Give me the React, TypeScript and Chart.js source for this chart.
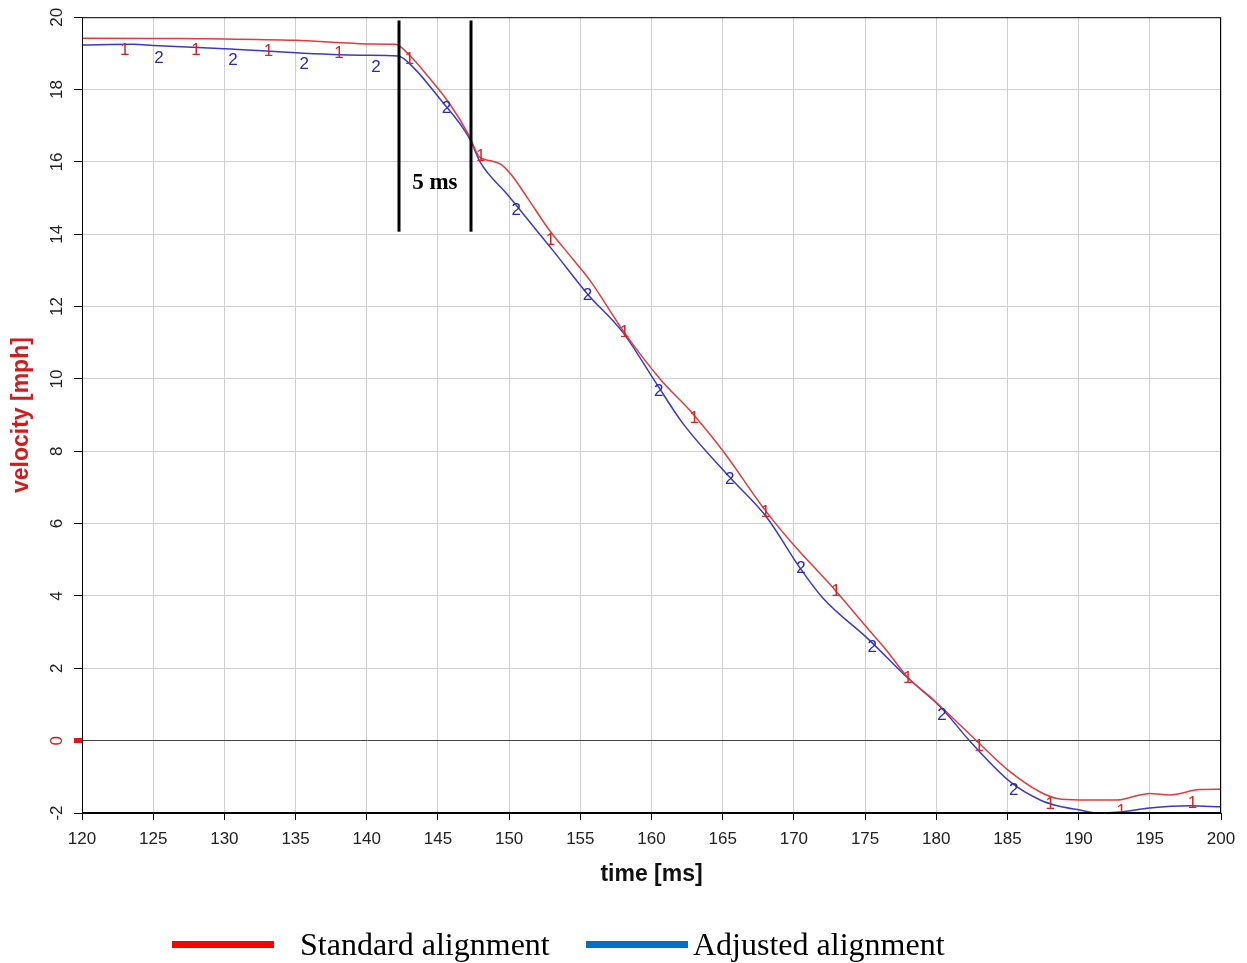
import React, { useEffect, useRef } from "react";
import { Chart, registerables } from "chart.js";

Chart.register(...registerables);

// Standard alignment (red) – time [ms], velocity [mph]
const stdTime = [120, 125, 130, 135, 138, 140, 142, 143, 144.4, 145.8, 147.2, 147.9, 148.7, 149.4, 150.1, 151.3, 152.7, 154.5, 155.7, 158.1, 160.6, 162.9, 165, 168, 169.9, 172.9, 175.1, 176.5, 178, 179.8, 182.9, 185, 187.3, 188.5, 190.1, 192.7, 194, 195, 196.4, 198.5, 200];
const stdVel = [19.42, 19.41, 19.4, 19.36, 19.3, 19.26, 19.25, 18.95, 18.32, 17.62, 16.72, 16.14, 16.03, 15.94, 15.67, 15.0, 14.18, 13.3, 12.71, 11.28, 10.0, 9.04, 8.02, 6.36, 5.45, 4.16, 3.14, 2.5, 1.75, 1.13, -0.03, -0.8, -1.42, -1.6, -1.64, -1.64, -1.53, -1.46, -1.5, -1.35, -1.34];

// Adjusted alignment (blue)
const adjTime = [120, 123.6, 125, 130, 135.3, 140, 142.2, 143.3, 145.1, 147.2, 148, 149.85, 151.96, 153.1, 155.5, 158, 160.3, 162.2, 165.5, 168.1, 170.4, 172, 175.3, 178, 180.3, 182.4, 185.2, 187.3, 188.5, 190.1, 191.3, 192.9, 195, 197.8, 200];
const adjVel = [19.23, 19.25, 19.22, 19.13, 19.01, 18.95, 18.93, 18.6, 17.76, 16.66, 15.97, 15.11, 14.09, 13.54, 12.35, 11.28, 9.9, 8.77, 7.28, 6.17, 4.79, 3.96, 2.78, 1.73, 0.93, -0.03, -1.14, -1.64, -1.8, -1.92, -2.0, -1.97, -1.86, -1.8, -1.83];

// Curve identifier labels ("1" on standard, "2" on adjusted)
const stdMarkTime = [123, 128, 133.1, 138.05, 143, 148, 152.9, 158.1, 163, 168, 172.95, 178, 183, 188, 193, 198];
const stdMarkVel = [19.09, 19.09, 19.06, 19.0, 18.84, 16.16, 13.82, 11.28, 8.9, 6.31, 4.13, 1.73, -0.15, -1.75, -1.94, -1.72];
const adjMarkTime = [125.4, 130.6, 135.6, 140.65, 145.6, 150.5, 155.5, 160.5, 165.5, 170.5, 175.5, 180.4, 185.45, 190.4, 195.4];
const adjMarkVel = [18.87, 18.81, 18.7, 18.62, 17.49, 14.65, 12.3, 9.65, 7.22, 4.76, 2.58, 0.7, -1.36, -2.4, -2.2];

// 5 ms annotation
const gapTimes = [142.26, 147.3];
const gapTop = 19.91;
const gapBottom = 14.07;
const gapLabel = "5 ms";
const gapLabelVel = 15.42;

const xMin = 120, xMax = 200, xStep = 5;
const yMin = -2, yMax = 20, yStep = 2;

const SANS = '"Liberation Sans", Arial, Helvetica, sans-serif';
const SERIF = '"Liberation Serif", "Times New Roman", serif';

const overlayPlugin = {
  id: "overlay",
  afterDatasetsDraw(chart: any) {
    const { ctx, chartArea, scales } = chart;
    const xs = scales.x, ys = scales.y;
    ctx.save();
    ctx.beginPath();
    ctx.rect(chartArea.left, chartArea.top, chartArea.right - chartArea.left, chartArea.bottom - chartArea.top);
    ctx.clip();
    ctx.font = `17px ${SANS}`;
    ctx.textAlign = "center";
    ctx.textBaseline = "middle";
    ctx.fillStyle = "#d42424";
    stdMarkTime.forEach((t, i) => ctx.fillText("1", xs.getPixelForValue(t), ys.getPixelForValue(stdMarkVel[i])));
    ctx.fillStyle = "#2a2ab4";
    adjMarkTime.forEach((t, i) => ctx.fillText("2", xs.getPixelForValue(t), ys.getPixelForValue(adjMarkVel[i])));
    ctx.restore();

    ctx.save();
    // gap lines
    ctx.strokeStyle = "#000";
    ctx.lineWidth = 3;
    gapTimes.forEach((t) => {
      const px = Math.round(xs.getPixelForValue(t));
      ctx.beginPath();
      ctx.moveTo(px, ys.getPixelForValue(gapTop));
      ctx.lineTo(px, ys.getPixelForValue(gapBottom));
      ctx.stroke();
    });
    ctx.fillStyle = "#000";
    ctx.font = `bold 23px ${SERIF}`;
    ctx.textAlign = "center";
    ctx.textBaseline = "middle";
    ctx.fillText(gapLabel, xs.getPixelForValue((gapTimes[0] + gapTimes[1]) / 2), ys.getPixelForValue(gapLabelVel));
    // frame
    ctx.strokeStyle = "#000";
    ctx.lineWidth = 1;
    ctx.strokeRect(chartArea.left + 0.5, chartArea.top + 0.5, chartArea.right - chartArea.left - 1, chartArea.bottom - chartArea.top - 1);
    ctx.restore();
  },
};

export default function App() {
  const canvasRef = useRef<HTMLCanvasElement | null>(null);

  useEffect(() => {
    const canvas = canvasRef.current;
    if (!canvas) return;
    const chart = new Chart(canvas, {
      type: "line",
      data: {
        datasets: [
          {
            label: "Standard alignment",
            data: stdTime.map((t, i) => ({ x: t, y: stdVel[i] })),
            borderColor: "#e03c3c",
            borderWidth: 1.5,
            pointRadius: 0,
            cubicInterpolationMode: "monotone",
            fill: false,
          },
          {
            label: "Adjusted alignment",
            data: adjTime.map((t, i) => ({ x: t, y: adjVel[i] })),
            borderColor: "#3a3ac8",
            borderWidth: 1.5,
            pointRadius: 0,
            cubicInterpolationMode: "monotone",
            fill: false,
          },
        ],
      },
      options: {
        responsive: false,
        animation: false,
        layout: { padding: { left: 0, top: 16, right: 26, bottom: 70 } },
        plugins: { legend: { display: false }, tooltip: { enabled: false } },
        scales: {
          x: {
            type: "linear",
            min: xMin,
            max: xMax,
            afterFit: (s: any) => { s.height = 80; },
            ticks: {
              stepSize: xStep,
              color: "#222",
              font: { family: SANS, size: 17 },
              padding: 9,
            },
            grid: { color: "#cfcfcf", lineWidth: 1, tickLength: 7, tickColor: "#000" },
            border: { display: true, color: "#000", width: 1 },
            title: {
              display: true,
              text: "time [ms]",
              color: "#111",
              font: { family: SANS, size: 23, weight: "bold" },
              padding: { top: 0, bottom: 5 },
            },
          },
          y: {
            type: "linear",
            min: yMin,
            max: yMax,
            afterFit: (s: any) => { s.width = 82; },
            ticks: {
              stepSize: yStep,
              minRotation: 90,
              maxRotation: 90,
              crossAlign: "center",
              padding: 7,
              color: (c: any) => (c.tick && c.tick.value === 0 ? "#cc1111" : "#222"),
              font: { family: SANS, size: 17 },
            },
            grid: {
              color: (c: any) => (c.tick && c.tick.value === 0 ? "#444" : "#cfcfcf"),
              lineWidth: 1,
              tickLength: 8,
              tickColor: (c: any) => (c.tick && c.tick.value === 0 ? "#ee1111" : "#000"),
              tickWidth: (c: any) => (c.tick && c.tick.value === 0 ? 5 : 1),
            },
            border: { display: true, color: "#000", width: 1 },
            title: {
              display: true,
              text: "velocity [mph]",
              color: "#d01c1c",
              font: { family: SANS, size: 23, weight: "bold" },
              padding: { top: 8, bottom: 0 },
            },
          },
        },
      },
      plugins: [overlayPlugin],
    } as any);
    return () => chart.destroy();
  }, []);

  return (
    <div style={{ position: "absolute", left: 0, top: 0, width: 1247, height: 963, background: "#fff" }}>
      <canvas ref={canvasRef} width={1247} height={963} style={{ position: "absolute", left: 0, top: 0 }} />
      <div style={{ position: "absolute", left: 172, top: 941, width: 102, height: 7, background: "#ff0000" }} />
      <span style={{ position: "absolute", left: 300, top: 928, font: `32px ${SERIF}`, lineHeight: "32px", whiteSpace: "nowrap", color: "#000" }}>
        Standard alignment
      </span>
      <div style={{ position: "absolute", left: 586, top: 941, width: 102, height: 7, background: "#0070c0" }} />
      <span style={{ position: "absolute", left: 693, top: 928, font: `32px ${SERIF}`, lineHeight: "32px", whiteSpace: "nowrap", color: "#000" }}>
        Adjusted alignment
      </span>
    </div>
  );
}
